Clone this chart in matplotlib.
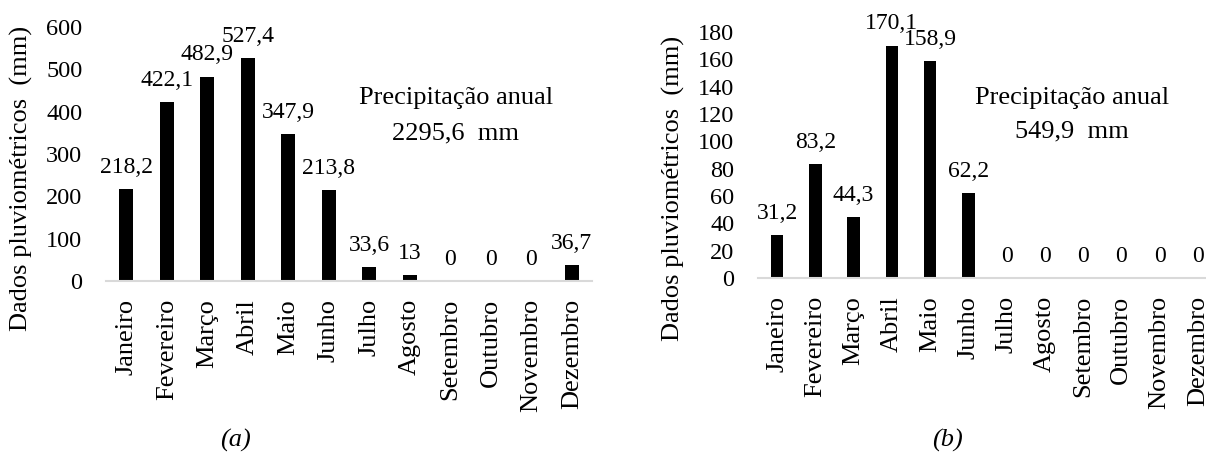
import matplotlib
matplotlib.use("Agg")
import matplotlib.pyplot as plt

plt.rcParams['font.family'] = ['Liberation Serif', 'DejaVu Serif']

months = ['Janeiro', 'Fevereiro', 'Março', 'Abril', 'Maio', 'Junho', 'Julho',
          'Agosto', 'Setembro', 'Outubro', 'Novembro', 'Dezembro']
rain_a = [218.2, 422.1, 482.9, 527.4, 347.9, 213.8, 33.6, 13, 0, 0, 0, 36.7]
rain_b = [31.2, 83.2, 44.3, 170.1, 158.9, 62.2, 0, 0, 0, 0, 0, 0]
total_a = '2295,6'
total_b = '549,9'
ylabel = 'Dados pluviométricos  (mm)'

FS = 19          # month names, axis title, notes
FS_TICK = 17.5   # y tick numbers
FS_VAL = 17      # values on top of bars


def fmt(v):
    return f'{v:g}'.replace('.', ',')


def rain_panel(ax, values, ymax, ystep, width, total, tx, ty):
    x = range(len(values))
    bars = ax.bar(x, values, width=width, color='black')
    ax.bar_label(bars, labels=[fmt(v) for v in values], padding=8, fontsize=FS_VAL)
    ax.set_xlim(-0.5, len(values) - 0.5)
    ax.set_ylim(0, ymax)
    ax.set_yticks(range(0, ymax + 1, ystep))
    ax.set_xticks(list(x))
    ax.set_xticklabels(months, rotation=90, fontsize=FS)
    ax.tick_params(axis='both', length=0)
    ax.tick_params(axis='y', pad=17, labelsize=FS_TICK)
    ax.tick_params(axis='x', pad=13)
    for s in ('left', 'right', 'top'):
        ax.spines[s].set_visible(False)
    ax.spines['bottom'].set_color('#d9d9d9')
    ax.spines['bottom'].set_linewidth(1.5)
    ax.text(tx, ty, 'Precipitação anual', transform=ax.transAxes,
            ha='center', va='center', fontsize=FS)
    ax.text(tx, ty - 0.138, f'{total}  mm', transform=ax.transAxes,
            ha='center', va='center', fontsize=FS)


W, H = 1206, 458
fig = plt.figure(figsize=(W / 100, H / 100), dpi=100)

ax_a = fig.add_axes([106 / W, 1 - 281 / H, 486 / W, 254 / H])
rain_panel(ax_a, rain_a, 600, 100, 0.35, total_a, 0.72, 0.72)

ax_b = fig.add_axes([758 / W, 1 - 278 / H, 459 / W, 246 / H])
rain_panel(ax_b, rain_b, 180, 20, 0.33, total_b, 0.684, 0.732)

fig.text(21 / W, 1 - 178 / H, ylabel, rotation=90, ha='center', va='center', fontsize=FS)
fig.text(673 / W, 1 - 188 / H, ylabel, rotation=90, ha='center', va='center', fontsize=FS)

fig.text(235 / W, 1 - 440 / H, '(a)', style='italic', ha='center', va='center', fontsize=FS)
fig.text(947 / W, 1 - 440 / H, '(b)', style='italic', ha='center', va='center', fontsize=FS)

fig.savefig('out.png', dpi=100)
